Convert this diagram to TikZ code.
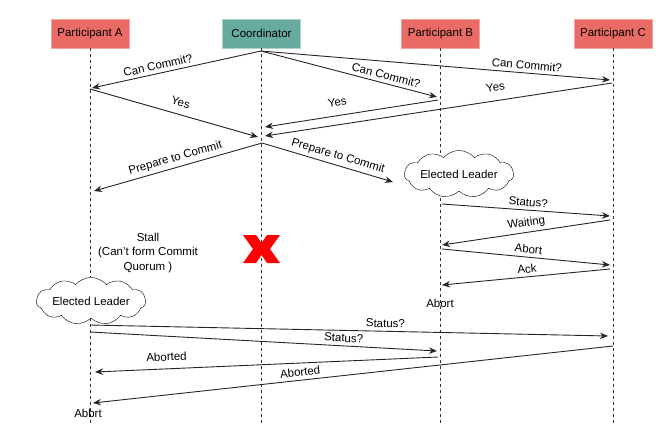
\documentclass[tikz,border=0pt]{standalone}
\usepackage{fontspec}
\setmainfont{Liberation Sans}
\usetikzlibrary{arrows.meta,shapes.symbols}

\definecolor{partred}{HTML}{EA6B66}
\definecolor{partredline}{HTML}{F5A3A0}
\definecolor{coordgreen}{HTML}{67AB9F}
\definecolor{coordgreenline}{HTML}{A8D5CB}
\definecolor{xred}{HTML}{FF0000}

\tikzstyle{actor}=[draw=partredline, fill=partred, minimum width=78pt, minimum height=29pt, inner sep=0pt]
\tikzstyle{boss}=[actor, draw=coordgreenline, fill=coordgreen]
\tikzstyle{lifeline}=[draw=black!80, line width=0.8pt, dash pattern=on 3pt off 3pt]
\tikzstyle{arrow}=[draw=black!85, line width=0.9pt, -{Stealth[length=8pt,width=6.5pt]}]
\tikzstyle{msg}=[sloped, above]
\tikzstyle{leader}=[cloud, draw, cloud puffs=11, cloud puff arc=100, aspect=3.2, fill=white, minimum width=104pt, minimum height=30pt, inner sep=0pt]

\begin{document}
\begin{tikzpicture}[x=1pt, y=-1pt, font=\fontsize{11.5}{14.5}\selectfont]
      \useasboundingbox (0,0) rectangle (670,437);

      % participants
      \node[actor] (pa) at (90, 33.5) {Participant A};
      \node[boss]  (co) at (261.5, 33.5) {Coordinator};
      \node[actor] (pb) at (440.5, 33.5) {Participant B};
      \node[actor] (pc) at (613, 33.5) {Participant C};

      \coordinate (bottom) at (0, 423);
      \foreach \p in {pa, co, pb, pc}
        \draw[lifeline] (\p.south) -- (\p.south |- bottom);

      % message ends
      \coordinate (co1) at (261, 51);
      \coordinate (a1) at (92, 88);
      \coordinate (b1) at (437, 97);
      \coordinate (c1) at (610, 80);
      \coordinate (a2) at (90, 89);
      \coordinate (co2) at (258, 137);
      \coordinate (b2) at (438, 100);
      \coordinate (co3) at (265, 127);
      \coordinate (c2) at (612, 83);
      \coordinate (co4) at (265, 136);
      \coordinate (co5) at (262, 143);
      \coordinate (a3) at (94, 191);
      \coordinate (prep) at (393, 182);
      \coordinate (b3) at (442, 204);
      \coordinate (c3) at (610, 216);
      \coordinate (c4) at (610, 220);
      \coordinate (b4) at (442, 245);
      \coordinate (b5) at (442, 249);
      \coordinate (c5) at (610, 265);
      \coordinate (c6) at (610, 269);
      \coordinate (b6) at (442, 285);
      \coordinate (a4) at (90, 325);
      \coordinate (c7) at (608, 336);
      \coordinate (a5) at (90, 332);
      \coordinate (b7) at (437, 351);
      \coordinate (b8) at (438, 357);
      \coordinate (a6) at (95, 372);
      \coordinate (c8) at (613, 346);
      \coordinate (a7) at (93, 403);

      \node[leader] (leadb) at (459, 174) {Elected Leader};
      \node[leader] (leada) at (91, 301) {Elected Leader};

      \node[align=center] (stall) at (148, 253) {Stall\\(Can't form Commit\\Quorum )};
      \node (abortb) at (440, 303) {Abort};
      \node (abbrt) at (88, 413) {Abbrt};

      % coordinator down
      \coordinate (xm) at (243, 235);
      \fill[xred, shift={(xm)}] (0,0) -- (13,0) -- (18.5,8) -- (24,0) -- (37,0) -- (27,14)
        -- (37,28) -- (24,28) -- (18.5,20) -- (13,28) -- (0,28) -- (10,14) -- cycle;

      \draw[arrow] (co1) to node[msg, pos=0.6] {Can Commit?} (a1);
      \draw[arrow] (co1) to node[msg, pos=0.7] {Can Commit?} (b1);
      \draw[arrow] (co1) to node[msg, pos=0.76] {Can Commit?} (c1);
      \draw[arrow] (a2) to node[msg, pos=0.52, above=4pt] {Yes} (co2);
      \draw[arrow] (b2) to node[msg, pos=0.57, above=6pt] {Yes} (co3);
      \draw[arrow] (c2) to node[msg, pos=0.33, above=6pt] {Yes} (co4);
      \draw[arrow] (co5) to node[msg, pos=0.5] {Prepare to Commit} (a3);
      \draw[arrow] (co5) to node[msg, pos=0.56] {Prepare to Commit} (prep);
      \draw[arrow] (b3) to node[msg, pos=0.51] {Status?} (c3);
      \draw[arrow] (c4) to node[msg, pos=0.49] {Waiting} (b4);
      \draw[arrow] (b5) to node[msg, pos=0.51] {Abort} (c5);
      \draw[arrow] (c6) to node[msg, pos=0.49] {Ack} (b6);
      \draw[arrow] (a4) to node[msg, pos=0.57] {Status?} (c7);
      \draw[arrow] (a5) to node[msg, pos=0.73] {Status?} (b7);
      \draw[arrow] (b8) to node[msg, pos=0.79, above=4pt] {Aborted} (a6);
      \draw[arrow] (c8) to node[msg, pos=0.6] {Aborted} (a7);
    \end{tikzpicture}
\end{document}
